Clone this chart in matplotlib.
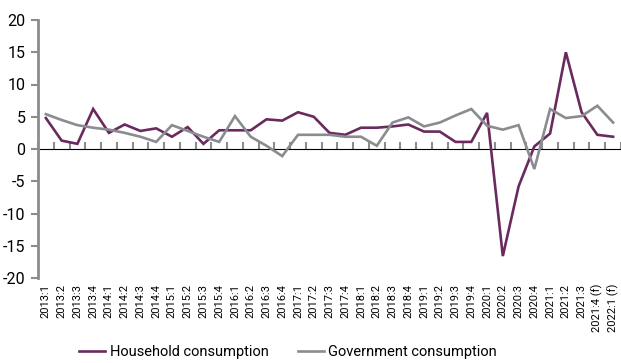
import matplotlib
matplotlib.use("Agg")
import matplotlib.pyplot as plt
import numpy as np

quarters = [
    "2013:1", "2013:2", "2013:3", "2013:4",
    "2014:1", "2014:2", "2014:3", "2014:4",
    "2015:1", "2015:2", "2015:3", "2015:4",
    "2016:1", "2016:2", "2016:3", "2016:4",
    "2017:1", "2017:2", "2017:3", "2017:4",
    "2018:1", "2018:2", "2018:3", "2018:4",
    "2019:1", "2019:2", "2019:3", "2019:4",
    "2020:1", "2020:2", "2020:3", "2020:4",
    "2021:1", "2021:2", "2021:3", "2021:4 (f)", "2022:1 (f)",
]

household = [
    4.8, 1.3, 0.8, 6.2,
    2.5, 3.8, 2.8, 3.2,
    1.9, 3.4, 0.8, 2.9,
    2.9, 2.9, 4.6, 4.4,
    5.7, 5.0, 2.5, 2.2,
    3.3, 3.3, 3.5, 3.8,
    2.7, 2.7, 1.1, 1.1,
    5.6, -16.6, -5.8, 0.4,
    2.4, 15.0, 5.7, 2.2, 1.9,
]

government = [
    5.4, 4.5, 3.7, 3.3,
    3.0, 2.5, 1.9, 1.1,
    3.7, 2.8, 1.9, 1.1,
    5.1, 1.9, 0.5, -1.1,
    2.2, 2.2, 2.2, 1.9,
    1.9, 0.5, 4.1, 4.9,
    3.5, 4.1, 5.2, 6.2,
    3.6, 3.0, 3.7, -3.1,
    6.2, 4.8, 5.1, 6.7, 4.1,
]

y_ticks = [-20, -15, -10, -5, 0, 5, 10, 15, 20]

plt.rcParams["font.family"] = ["Roboto", "DejaVu Sans"]

purple = "#6a2a5e"
grey = "#8a8c8f"

fig = plt.figure(figsize=(6.21, 3.63), dpi=100)
ax = fig.add_axes([38 / 621, 85 / 363, 583 / 621, 258 / 363])

x = np.arange(len(quarters))
ax.plot(x, household, color=purple, lw=1.9, label="Household consumption", solid_joinstyle="miter")
ax.plot(x, government, color=grey, lw=1.9, label="Government consumption", solid_joinstyle="miter")

ax.set_xlim(-0.5, len(quarters) - 0.5)
ax.set_ylim(-20, 20)
ax.set_yticks(y_ticks)
ax.set_yticklabels([str(v) for v in y_ticks], fontsize=11.5)

for s in ("top", "right", "bottom"):
    ax.spines[s].set_visible(False)
ax.spines["left"].set_color(grey)
ax.spines["left"].set_linewidth(2.0)
ax.tick_params(axis="y", color=grey, width=1.5, length=5, pad=4)

# category labels under the plot
ax.set_xticks(x)
ax.set_xticklabels(quarters, rotation=90, fontsize=8, va="top")
ax.tick_params(axis="x", length=0, pad=4)

# zero line with tick marks between the quarters
zero = ax.secondary_xaxis(0.5)
zero.spines["bottom"].set_color(grey)
zero.spines["bottom"].set_linewidth(2.0)
zero.set_xticks(np.arange(len(quarters) + 1) - 0.5)
zero.set_xticklabels([])
zero.tick_params(axis="x", colors=grey, width=1.5, length=5, direction="out")

fig.legend(loc="center", bbox_to_anchor=(288 / 621, 1 - 352 / 363), ncol=2, frameon=False,
           fontsize=10.5, handlelength=1.8, columnspacing=2.0, handletextpad=0.3)

fig.savefig("out.png", dpi=100)
